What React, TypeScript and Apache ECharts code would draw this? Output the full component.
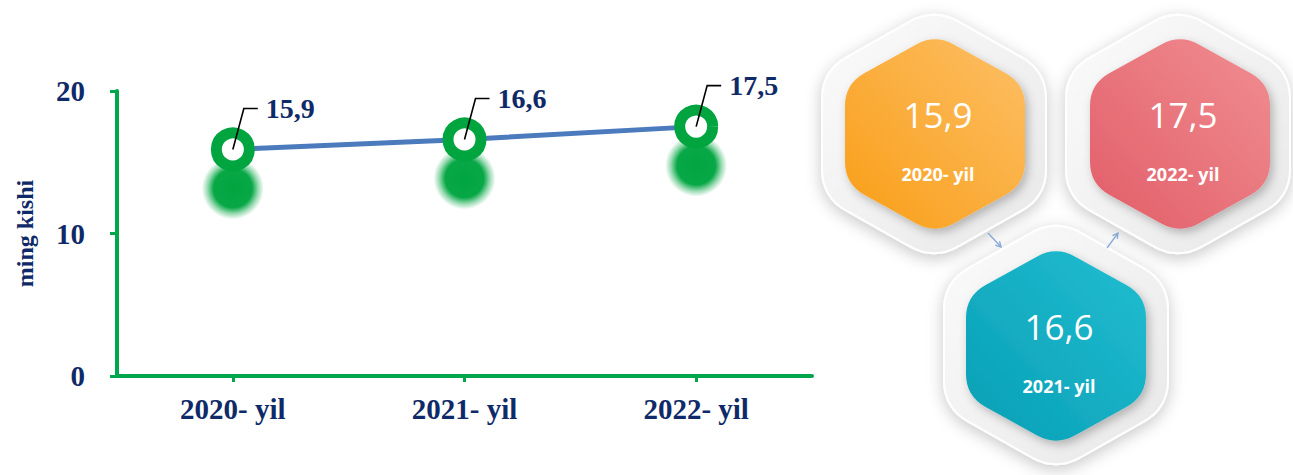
import React, { useEffect, useRef } from 'react';
import * as echarts from 'echarts';

const categories = ['2020- yil', '2021- yil', '2022- yil'];
const values = [15.9, 16.6, 17.5];
const yMin = 0;
const yMax = 20;
const yInterval = 10;
const yAxisName = 'ming kishi';
const hexGradients = [
  ['#f99e17', '#fdbf66'],
  ['#079fb5', '#23bdd1'],
  ['#e25d68', '#f08e92'],
];
const hexCenters = [
  [935, 134],
  [1056, 346],
  [1180, 134],
];
const frameCenters = [
  [934, 134],
  [1056, 345],
  [1178, 134],
];

const NAVY = '#0f2a68';
const GREEN_AXIS = '#00a64c';
const GREEN_RING = '#00a540';
const SERIF = '"Liberation Serif", "Times New Roman", serif';

const fmt = (v: number) => v.toFixed(1).replace('.', ',');

function hexPath(a: number, b: number, r: number): string {
  const v = [
    [0, -b],
    [a, -b / 2],
    [a, b / 2],
    [0, b],
    [-a, b / 2],
    [-a, -b / 2],
  ];
  const f = (n: number) => n.toFixed(2);
  let d = '';
  for (let i = 0; i < 6; i++) {
    const p = v[i];
    const prev = v[(i + 5) % 6];
    const next = v[(i + 1) % 6];
    const u1 = [prev[0] - p[0], prev[1] - p[1]];
    const l1 = Math.hypot(u1[0], u1[1]);
    const u2 = [next[0] - p[0], next[1] - p[1]];
    const l2 = Math.hypot(u2[0], u2[1]);
    const s = [p[0] + (u1[0] / l1) * r, p[1] + (u1[1] / l1) * r];
    const e = [p[0] + (u2[0] / l2) * r, p[1] + (u2[1] / l2) * r];
    d += (i === 0 ? 'M' : 'L') + f(s[0]) + ' ' + f(s[1]) + ' Q' + f(p[0]) + ' ' + f(p[1]) + ' ' + f(e[0]) + ' ' + f(e[1]) + ' ';
  }
  return d + 'Z';
}

let registered = false;
function registerShapes() {
  if (registered) return;
  registered = true;
  echarts.graphic.registerShape('hexFrame', echarts.graphic.extendPath(hexPath(112, 126, 28), {}) as any);
  echarts.graphic.registerShape('hexInner', echarts.graphic.extendPath(hexPath(90, 100, 22), {}) as any);
}

function arrow(x1: number, y1: number, x2: number, y2: number) {
  const ang = Math.atan2(y2 - y1, x2 - x1);
  const len = 6;
  const h1 = [x2 - len * Math.cos(ang - 0.5), y2 - len * Math.sin(ang - 0.5)];
  const h2 = [x2 - len * Math.cos(ang + 0.5), y2 - len * Math.sin(ang + 0.5)];
  const st = { stroke: '#86a9d6', lineWidth: 1.3, fill: 'none' };
  return [
    { type: 'line', shape: { x1, y1, x2, y2 }, style: st, z: 5 },
    { type: 'polyline', shape: { points: [h1, [x2, y2], h2] }, style: st, z: 5 },
  ];
}

export default function App() {
  const ref = useRef<HTMLDivElement>(null);
  useEffect(() => {
    if (!ref.current) return;
    registerShapes();
    const chart = echarts.init(ref.current, null, { renderer: 'svg' });

    const graphics: any[] = [];
    frameCenters.forEach((c) => {
      graphics.push({
        type: 'hexFrame',
        x: c[0],
        y: c[1],
        z: 1,
        style: {
          fill: {
            type: 'linear', x: 0, y: 0, x2: 1, y2: 1,
            colorStops: [
              { offset: 0, color: '#fbfbfb' },
              { offset: 1, color: '#e8e8e8' },
            ],
          },
          stroke: '#ffffff',
          lineWidth: 2,
          shadowBlur: 16,
          shadowColor: 'rgba(0,0,0,0.22)',
          shadowOffsetY: 4,
        },
      });
    });
    values.forEach((v, i) => {
      const c = hexCenters[i];
      const g = hexGradients[i];
      graphics.push({
        type: 'hexInner',
        x: c[0],
        y: c[1],
        z: 2,
        style: {
          fill: {
            type: 'linear', x: 0, y: 1, x2: 1, y2: 0,
            colorStops: [
              { offset: 0, color: g[0] },
              { offset: 1, color: g[1] },
            ],
          },
          shadowBlur: 10,
          shadowColor: 'rgba(0,0,0,0.25)',
          shadowOffsetX: 3,
          shadowOffsetY: 4,
        },
      });
      graphics.push({
        type: 'text',
        x: c[0] + 3,
        y: c[1] - 20,
        z: 3,
        style: {
          text: fmt(v),
          fill: '#ffffff',
          fontSize: 35,
          fontFamily: '"Open Sans", sans-serif',
          align: 'center',
          verticalAlign: 'middle',
        },
      });
      graphics.push({
        type: 'text',
        x: c[0] + 3,
        y: c[1] + 40,
        z: 3,
        style: {
          text: categories[i],
          fill: '#ffffff',
          fontSize: 18,
          fontWeight: 'bold',
          fontFamily: '"Open Sans", sans-serif',
          align: 'center',
          verticalAlign: 'middle',
        },
      });
    });
    graphics.push(...arrow(988, 233, 1001, 247));
    graphics.push(...arrow(1107, 248, 1118, 233));

    chart.setOption({
      animation: false,
      grid: { left: 117, right: 481, top: 91, bottom: 99, outerBoundsMode: 'none', containLabel: false },
      xAxis: {
        type: 'category',
        data: categories,
        boundaryGap: true,
        axisLine: { show: true, lineStyle: { color: GREEN_AXIS, width: 4 } },
        axisTick: { show: true, alignWithLabel: true, length: 6, lineStyle: { color: GREEN_AXIS, width: 3 } },
        axisLabel: {
          margin: 18,
          color: NAVY,
          fontSize: 29,
          fontWeight: 'bold',
          fontFamily: SERIF,
        },
        splitLine: { show: false },
      },
      yAxis: {
        type: 'value',
        min: yMin,
        max: yMax,
        interval: yInterval,
        name: yAxisName,
        nameLocation: 'middle',
        nameRotate: 90,
        nameGap: 80,
        nameTextStyle: { color: NAVY, fontSize: 24, fontWeight: 'bold', fontFamily: SERIF },
        axisLine: { show: true, lineStyle: { color: GREEN_AXIS, width: 4 } },
        axisTick: { show: true, length: 7, lineStyle: { color: GREEN_AXIS, width: 3 } },
        axisLabel: {
          margin: 32,
          color: NAVY,
          fontSize: 29,
          fontWeight: 'bold',
          fontFamily: SERIF,
        },
        splitLine: { show: false },
      },
      series: [
        {
          type: 'scatter',
          data: values,
          z: 1,
          silent: true,
          symbol: 'circle',
          symbolSize: 62,
          symbolOffset: [0, 39],
          itemStyle: {
            opacity: 1,
            color: {
              type: 'radial', x: 0.5, y: 0.5, r: 0.5,
              colorStops: [
                { offset: 0, color: 'rgba(0,165,64,1)' },
                { offset: 0.62, color: 'rgba(0,165,64,0.97)' },
                { offset: 0.82, color: 'rgba(0,165,64,0.4)' },
                { offset: 1, color: 'rgba(0,165,64,0)' },
              ],
            },
          },
        },
        {
          type: 'line',
          data: values,
          z: 2,
          symbol: 'circle',
          symbolSize: 33,
          lineStyle: { color: '#4b7bbd', width: 5 },
          itemStyle: {
            color: '#ffffff',
            borderColor: GREEN_RING,
            borderWidth: 11,
          },
          label: { show: false },
        },
        {
          type: 'custom',
          z: 4,
          data: values.map((v, i) => [i, v]),
          renderItem: (params: any, api: any) => {
            const v = api.value(1);
            const p = api.coord([api.value(0), v]);
            return {
              type: 'group',
              children: [
                {
                  type: 'polyline',
                  shape: { points: [[p[0], p[1]], [p[0] + 11, p[1] - 41], [p[0] + 25, p[1] - 41]] },
                  style: { stroke: '#000000', lineWidth: 1.6, fill: 'none' },
                },
                {
                  type: 'text',
                  x: p[0] + 33,
                  y: p[1] - 41,
                  style: {
                    text: fmt(v),
                    fill: NAVY,
                    fontSize: 28,
                    fontWeight: 'bold',
                    fontFamily: SERIF,
                    align: 'left',
                    verticalAlign: 'middle',
                  },
                },
              ],
            };
          },
        },
      ],
      graphic: graphics,
    });
    return () => chart.dispose();
  }, []);
  return <div ref={ref} style={{ position: 'absolute', left: 0, top: 0, width: 1293, height: 475 }} />;
}
